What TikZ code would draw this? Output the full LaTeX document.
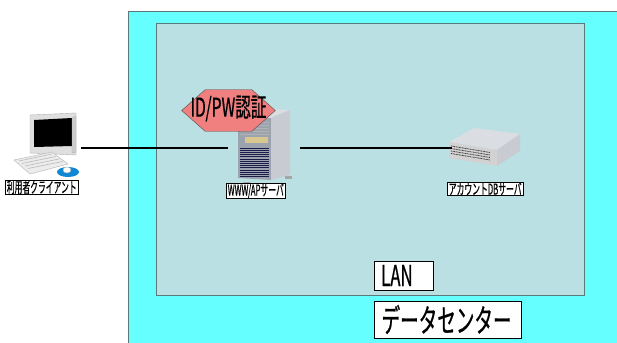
\documentclass[tikz,border=0pt]{standalone}
\usepackage{fontspec}
\newfontfamily\jpfont[FakeStretch=0.52, FakeBold=0.4]{Noto Sans CJK JP}
\newfontfamily\jpmid[FakeStretch=0.6, FakeBold=0.5]{Noto Sans CJK JP}
\newfontfamily\jpwide[FakeStretch=0.58, FakeBold=0.6]{Noto Sans CJK JP}
\usetikzlibrary{shapes.geometric}
\definecolor{dccyan}{HTML}{66FFFF}
\definecolor{lanbg}{HTML}{BBE0E3}
\definecolor{frame}{HTML}{5A7A7A}
\definecolor{authred}{HTML}{F08080}
\definecolor{srvfront}{HTML}{9AA3AE}
\definecolor{srvside}{HTML}{C8CCD2}
\definecolor{srvtop}{HTML}{DADDE2}
\definecolor{bay}{HTML}{D8C890}
\tikzset{
  tag/.style={draw=black, fill=white, inner xsep=1.5pt, inner ysep=0pt, font=\jpfont\fontsize{15}{15}\selectfont, line width=0.6pt},
  bigtag/.style={draw=black, fill=white, inner sep=1pt, font=\jpwide\fontsize{32}{32}\selectfont, line width=0.6pt, anchor=west},
  link/.style={line width=1.4pt, black},
}
\begin{document}
\begin{tikzpicture}[x=1pt,y=-1pt]
\useasboundingbox (0,0) rectangle (617,342);
\fill[white] (0,0) rectangle (617,342);
% data centre area
\draw[fill=dccyan, draw=frame, line width=0.8pt] (128,11) rectangle (630,350);
% LAN area
\draw[fill=lanbg, draw=frame, line width=0.8pt] (156,23) rectangle (584,295);

% ---- client PC ----
\coordinate (pc) at (45,145);
% monitor
\draw[fill=gray!25, draw=gray!60] (30,115) -- (76,113) -- (76,155) -- (30,153) -- cycle;
\fill[black] (34,120) -- (72,118) -- (72,146) -- (34,147) -- cycle;
\draw[fill=gray!40, draw=gray!60] (72,118) -- (76,116) -- (76,152) -- (72,153) -- cycle;
% keyboard
\draw[fill=gray!15, draw=gray!60] (14,160) -- (52,152) -- (68,164) -- (30,174) -- cycle;
\foreach \i in {0,1,2,3} {
  \draw[gray!55, line width=0.6pt] (19+3*\i,161+2.5*\i) -- (52+3.5*\i,154+2.5*\i);
}
% mouse on pad
\fill[cyan!70!blue] (68,172) ellipse (11pt and 5pt);
\fill[white, draw=gray!60] (67,170) ellipse (4pt and 3pt);
\node[tag, anchor=north west] (pclbl) at (5,180) {利用者クライアント};

% ---- WWW/AP server tower ----
\coordinate (ap) at (263,148);
\fill[srvtop] (238,118) -- (256,108) -- (290,110) -- (271,118) -- cycle;
\fill[srvfront] (238,118) -- (271,118) -- (271,180) -- (238,178) -- cycle;
\fill[srvside] (271,118) -- (290,110) -- (290,175) -- (271,180) -- cycle;
\foreach \k in {0,...,13} {
  \draw[gray!55!blue!40!black, line width=0.7pt] (240,148+2.2*\k) -- (269,148+2.2*\k);
}
\foreach \k in {0,...,4} {
  \draw[gray!60, line width=0.6pt] (240,122+3*\k) -- (269,122+3*\k);
}
\fill[bay] (245,137) rectangle (268,143);
\fill[gray!70] (243,182) rectangle (250,185);
\fill[gray!70] (285,176) rectangle (292,179);
\node[tag, anchor=north west] (aplbl) at (226,183) {WWW/APサーバ};

% authentication badge
\node[regular polygon, regular polygon sides=6, shape border rotate=0, draw=gray!60!black, fill=authred,
      minimum width=48pt, xscale=1.95, inner sep=0pt] (auth) at (228.5,110.5) {};
\node[font=\jpmid\fontsize{26}{26}\selectfont] (authtxt) at (228.5,108.5) {ID/PW認証};

% ---- account DB server ----
\coordinate (db) at (484,147);
\fill[srvtop] (449,142) -- (474,128) -- (520,134) -- (497,150) -- cycle;
\fill[gray!35] (449,142) -- (497,150) -- (497,166) -- (449,158) -- cycle;
\fill[srvside] (497,150) -- (520,134) -- (520,151) -- (497,166) -- cycle;
\foreach \k in {0,...,3} {
  \draw[gray!50!black, line width=0.8pt, dash pattern=on 1pt off 0.6pt] (451,146+2.5*\k) -- (490,152.5+2.5*\k);
}
\node[tag, anchor=north west] (dblbl) at (447,182) {アカウントDBサーバ};

% ---- connections ----
\coordinate (pcport) at (81,148);
\coordinate (apin) at (228,148);
\coordinate (apout) at (300,148);
\coordinate (dbin) at (452,148);
\draw[link] (pcport) -- (apin);
\draw[link] (apout) -- (dbin);

% ---- area labels ----
\node[bigtag, minimum width=59pt, minimum height=29pt, text width=55pt, align=left, font=\jpwide\fontsize{29}{29}\selectfont] (lan) at (374,275.5) {\,LAN};
\node[bigtag, minimum width=147pt, minimum height=37pt, text width=143pt, align=left] (dc) at (374,319.5) {\,データセンター};
\end{tikzpicture}
\end{document}
